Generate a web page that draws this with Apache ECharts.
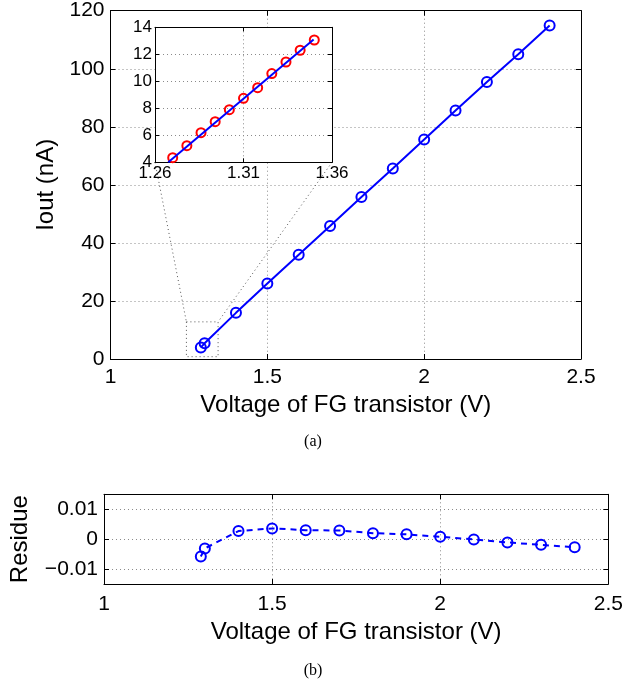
<!DOCTYPE html>
<html>
<head>
<meta charset="utf-8">
<script src="https://cdn.jsdelivr.net/npm/echarts@6/dist/echarts.min.js"></script>
<style>
  html, body { margin: 0; padding: 0; background: #fff; }
  #chart { width: 626px; height: 685px; }
</style>
</head>
<body>
<div id="chart"></div>
<script>
// main plot: measured output current
const mainVolt = [1.288, 1.3, 1.4, 1.5, 1.6, 1.7, 1.8, 1.9, 2.0, 2.1, 2.2, 2.3, 2.4];
const mainIout = [4.0, 5.4, 15.9, 26.0, 35.9, 45.8, 55.8, 65.6, 75.6, 85.6, 95.4, 105.0, 114.9];

// inset: zoom on the low-current region
const insetVolt = [1.27, 1.278, 1.286, 1.294, 1.302, 1.31, 1.318, 1.326, 1.334, 1.342, 1.35];
const insetIout = [4.34, 5.23, 6.19, 7.01, 7.90, 8.74, 9.53, 10.57, 11.43, 12.30, 13.06];
const insetFitVolt = [1.2675, 1.3496];
const insetFitIout = [4.0, 13.1];
const insetTicksX = [1.26, 1.31, 1.36];

// zoomed box drawn in the main plot
const zoomBoxVolt = [1.242, 1.343];
const zoomBoxIout = [0.8, 12.8];

// residue plot
const resVolt = [1.288, 1.3, 1.4, 1.5, 1.6, 1.7, 1.8, 1.9, 2.0, 2.1, 2.2, 2.3, 2.4];
const resVal = [-0.0058, -0.0031, 0.0027, 0.0036, 0.0030, 0.0029, 0.0020, 0.0016, 0.0008, -0.0001, -0.0011, -0.0019, -0.0027];
const resTicksY = [-0.01, 0, 0.01];

const FONT = 'Liberation Sans';
const pair = (xs, ys) => xs.map((x, i) => [x, ys[i]]);

const dotted = { show: true, lineStyle: { color: '#8a8a8a', type: [1, 3], width: 1 } };
const blackLine = { show: true, onZero: false, lineStyle: { color: '#000', width: 1 } };

function boxAxis(grid, pos, min, max, extra) {
  const main = pos === 'bottom' || pos === 'left';
  return Object.assign({
    type: 'value', gridIndex: grid, position: pos, min: min, max: max,
    axisLine: blackLine,
    axisTick: { show: true, inside: true, length: 5, lineStyle: { color: '#000' } },
    axisLabel: main ? { color: '#000', fontFamily: FONT, fontSize: 21 } : { show: false },
    splitLine: main ? dotted : { show: false }
  }, extra || {});
}

const chart = echarts.init(document.getElementById('chart'));

const option = {
  backgroundColor: '#fff',
  animation: false,
  grid: [
    { left: 110.5, top: 10.7, width: 470.5, height: 348.3 },
    { left: 155, top: 27.3, width: 177, height: 135, z: 2, show: true, backgroundColor: '#fff', borderWidth: 0 },
    { left: 102.3, top: 494.3, width: 506, height: 89.7 }
  ],
  xAxis: [
    boxAxis(0, 'bottom', 1, 2.5, { interval: 0.5,
      name: 'Voltage of FG transistor (V)', nameLocation: 'middle', nameGap: 23,
      nameTextStyle: { color: '#000', fontFamily: FONT, fontSize: 24 },
      axisLabel: { color: '#000', fontFamily: FONT, fontSize: 21, margin: 8 } }),
    boxAxis(0, 'top', 1, 2.5, { interval: 0.5 }),
    boxAxis(1, 'bottom', 1.26, 1.36, { z: 3,
      axisTick: { show: true, inside: true, length: 4, customValues: insetTicksX, lineStyle: { color: '#000' } },
      axisLabel: { color: '#000', fontFamily: FONT, fontSize: 17, margin: 3, customValues: insetTicksX } }),
    boxAxis(1, 'top', 1.26, 1.36, { z: 3,
      axisTick: { show: true, inside: true, length: 4, customValues: insetTicksX, lineStyle: { color: '#000' } } }),
    boxAxis(2, 'bottom', 1, 2.5, { interval: 0.5,
      name: 'Voltage of FG transistor (V)', nameLocation: 'middle', nameGap: 36,
      nameTextStyle: { color: '#000', fontFamily: FONT, fontSize: 24 },
      axisLabel: { color: '#000', fontFamily: FONT, fontSize: 21, margin: 10 } }),
    boxAxis(2, 'top', 1, 2.5, { interval: 0.5 })
  ],
  yAxis: [
    boxAxis(0, 'left', 0, 120, { interval: 20,
      name: 'Iout (nA)', nameLocation: 'middle', nameGap: 47,
      nameTextStyle: { color: '#000', fontFamily: FONT, fontSize: 24 },
      axisLabel: { color: '#000', fontFamily: FONT, fontSize: 21, margin: 6 } }),
    boxAxis(0, 'right', 0, 120, { interval: 20 }),
    boxAxis(1, 'left', 4, 14, { interval: 2, z: 3,
      axisTick: { show: true, inside: true, length: 4, lineStyle: { color: '#000' } },
      axisLabel: { color: '#000', fontFamily: FONT, fontSize: 17, margin: 3 } }),
    boxAxis(1, 'right', 4, 14, { interval: 2, z: 3,
      axisTick: { show: true, inside: true, length: 4, lineStyle: { color: '#000' } } }),
    boxAxis(2, 'left', -0.015, 0.015, {
      name: 'Residue', nameLocation: 'middle', nameGap: 72,
      nameTextStyle: { color: '#000', fontFamily: FONT, fontSize: 24 },
      axisTick: { show: true, inside: true, length: 5, customValues: resTicksY, lineStyle: { color: '#000' } },
      axisLabel: { color: '#000', fontFamily: FONT, fontSize: 21, margin: 6, customValues: resTicksY,
        formatter: v => String(v).replace('-', '\u2212') } }),
    boxAxis(2, 'right', -0.015, 0.015, {
      axisTick: { show: true, inside: true, length: 5, customValues: resTicksY, lineStyle: { color: '#000' } } })
  ],
  series: [
    {
      type: 'line', xAxisIndex: 0, yAxisIndex: 0, z: 2,
      data: pair(mainVolt, mainIout),
      symbol: 'circle', symbolSize: 10,
      lineStyle: { color: '#0000ff', width: 2 },
      itemStyle: { color: 'rgba(0,0,0,0)', borderColor: '#0000ff', borderWidth: 2 },
      markArea: {
        silent: true,
        itemStyle: { color: 'rgba(0,0,0,0)', borderColor: '#555', borderWidth: 1, borderType: [1, 3] },
        data: [[{ coord: [zoomBoxVolt[0], zoomBoxIout[1]] }, { coord: [zoomBoxVolt[1], zoomBoxIout[0]] }]]
      }
    },
    {
      type: 'line', xAxisIndex: 2, yAxisIndex: 2, z: 4,
      data: pair(insetVolt, insetIout),
      symbol: 'circle', symbolSize: 9,
      lineStyle: { width: 0 },
      itemStyle: { color: 'rgba(0,0,0,0)', borderColor: '#ff0000', borderWidth: 2 }
    },
    {
      type: 'line', xAxisIndex: 2, yAxisIndex: 2, z: 5,
      data: pair(insetFitVolt, insetFitIout),
      symbol: 'none',
      lineStyle: { color: '#0000ff', width: 2 }
    },
    {
      type: 'line', xAxisIndex: 4, yAxisIndex: 4, z: 2,
      data: pair(resVolt, resVal),
      symbol: 'circle', symbolSize: 10,
      lineStyle: { color: '#0000ff', width: 2, type: [6, 5] },
      itemStyle: { color: 'rgba(0,0,0,0)', borderColor: '#0000ff', borderWidth: 2 }
    }
  ]
};

chart.setOption(option);

// dotted connectors from the inset's lower corners to the zoomed box
const c1 = chart.convertToPixel({ gridIndex: 1 }, [1.26, 4]);
const c2 = chart.convertToPixel({ gridIndex: 1 }, [1.36, 4]);
const b1 = chart.convertToPixel({ gridIndex: 0 }, [zoomBoxVolt[0], zoomBoxIout[1]]);
const b2 = chart.convertToPixel({ gridIndex: 0 }, [zoomBoxVolt[1], zoomBoxIout[1]]);
const connStyle = { stroke: '#555', lineWidth: 1, lineDash: [1, 3] };

chart.setOption({
  graphic: [
    { type: 'line', z: 1, silent: true, shape: { x1: c1[0], y1: c1[1], x2: b1[0], y2: b1[1] }, style: connStyle },
    { type: 'line', z: 1, silent: true, shape: { x1: c2[0], y1: c2[1], x2: b2[0], y2: b2[1] }, style: connStyle },
    { type: 'text', left: 'center', top: 434, style: { text: '(a)', fill: '#000', font: '16px "Liberation Serif"' } },
    { type: 'text', left: 'center', top: 663, style: { text: '(b)', fill: '#000', font: '16px "Liberation Serif"' } }
  ]
});
</script>
</body>
</html>
